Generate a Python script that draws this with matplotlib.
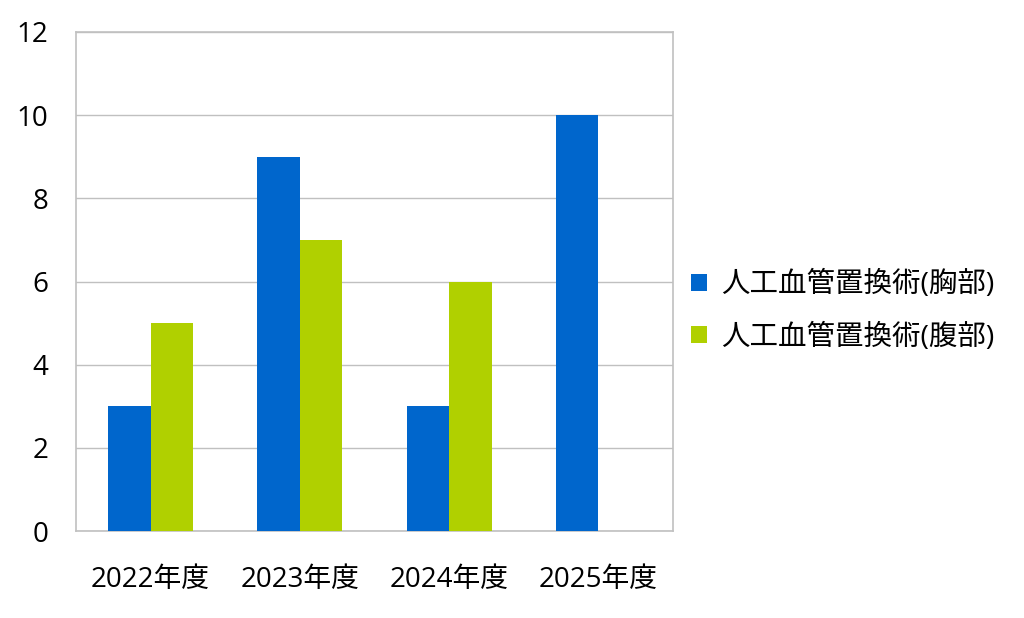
import matplotlib
matplotlib.use("Agg")
import matplotlib.pyplot as plt
import numpy as np

plt.rcParams["font.family"] = ["Open Sans", "Noto Sans CJK JP", "DejaVu Sans"]

# ── Data ───────────────────────────────────────────────────────────────────
categories = ["2022年度", "2023年度", "2024年度", "2025年度"]
chest      = [3, 9, 3, 10]      # 人工血管置換術(胸部)
abdomen    = [5, 7, 6, 0]       # 人工血管置換術(腹部)
labels     = ["人工血管置換術(胸部)", "人工血管置換術(腹部)"]
yticks     = [0, 2, 4, 6, 8, 10, 12]

BLUE  = "#0066CC"
GREEN = "#B0D000"
GRID  = "#C0C0C0"

# ── Chart ──────────────────────────────────────────────────────────────────
fig = plt.figure(figsize=(10.24, 6.18), dpi=100)
ax = fig.add_axes([76 / 1024, 1 - 531 / 618, 597 / 1024, 499 / 618])

x = np.arange(len(categories))
w = 0.285
ax.bar(x - w / 2, chest, w, color=BLUE, label=labels[0], zorder=3)
ax.bar(x + w / 2, abdomen, w, color=GREEN, label=labels[1], zorder=3)

ax.set_xlim(-0.5, len(categories) - 0.5)
ax.set_ylim(0, 12)
ax.set_yticks(yticks)
ax.set_xticks(x)
ax.set_xticklabels(categories)
ax.tick_params(axis="both", length=0, labelsize=20)
ax.tick_params(axis="y", pad=20)
ax.tick_params(axis="x", pad=25)
ax.grid(axis="y", color=GRID, linewidth=1, zorder=0)
for s in ax.spines.values():
    s.set_color(GRID)
    s.set_linewidth(1.2)

ax.legend(loc="center left", bbox_to_anchor=(0.987, 0.44), frameon=False,
          fontsize=20.5, handlelength=0.55, handleheight=0.55, handletextpad=0.5,
          labelspacing=0.85)

fig.savefig("out.png", dpi=100)
